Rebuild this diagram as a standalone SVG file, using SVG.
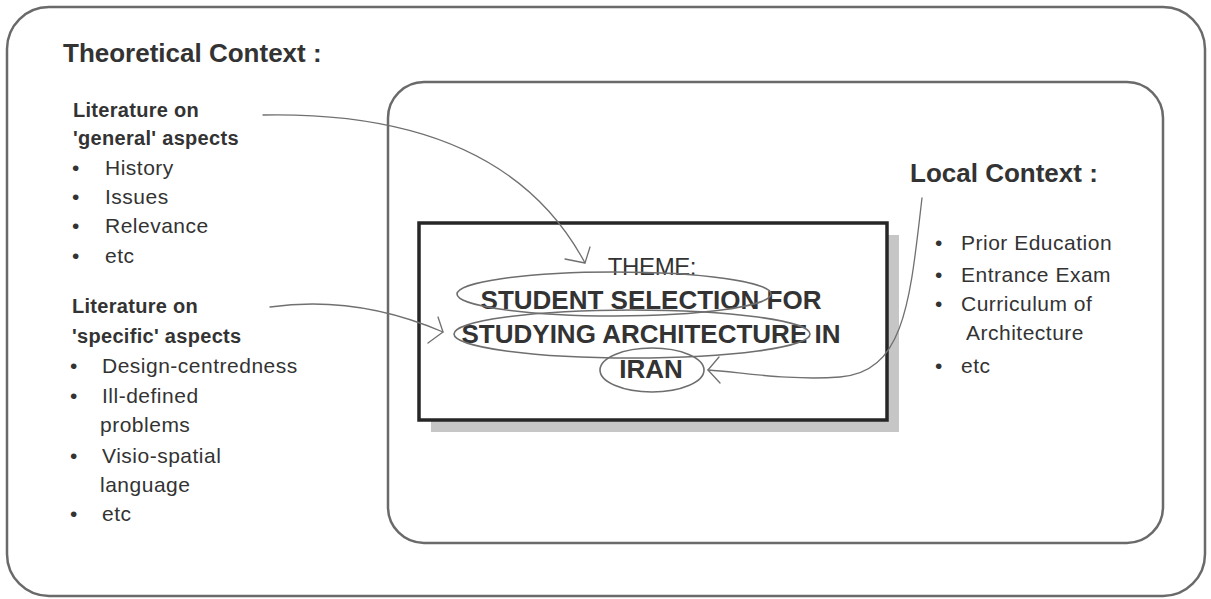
<svg xmlns="http://www.w3.org/2000/svg" width="1211" height="599" viewBox="0 0 1211 599">
  <style>
    .frame { fill: none; stroke: #6a6a6a; stroke-width: 2.5; }
    .txt { font-family: "Liberation Sans", Arial, Helvetica, sans-serif; fill: #333333; }
    .h1 { font-size: 26px; font-weight: bold; }
    .h2 { font-size: 20px; font-weight: bold; letter-spacing: 0.3px; }
    .item { font-size: 21px; letter-spacing: 0.5px; }
    .theme { font-size: 24px; letter-spacing: -0.4px; }
    .themeb { font-size: 26px; font-weight: bold; }
    .link { fill: none; stroke: #707070; stroke-width: 1.3; stroke-linecap: round; stroke-linejoin: round; }
    .ring { fill: none; stroke: #6e6e6e; stroke-width: 1.6; }
  </style>

  <rect x="0" y="0" width="1211" height="599" fill="#ffffff"/>

  <!-- theoretical context frame -->
  <g id="theoretical-context">
    <rect class="frame" x="7" y="7" width="1198" height="589" rx="42" ry="42"/>
    <text class="txt h1" x="63" y="62">Theoretical Context :</text>
  </g>

  <!-- literature on general aspects -->
  <g id="general-literature" class="txt">
    <text class="h2" x="73" y="117">Literature on</text>
    <text class="h2" x="73" y="145">'general' aspects</text>
    <g class="item">
      <text x="72" y="175">•</text><text x="105" y="175">History</text>
      <text x="72" y="204">•</text><text x="105" y="204">Issues</text>
      <text x="72" y="233">•</text><text x="105" y="233">Relevance</text>
      <text x="72" y="263">•</text><text x="105" y="263">etc</text>
    </g>
  </g>

  <!-- literature on specific aspects -->
  <g id="specific-literature" class="txt">
    <text class="h2" x="72" y="313">Literature on</text>
    <text class="h2" x="72" y="343">'specific' aspects</text>
    <g class="item">
      <text x="70" y="373">•</text><text x="102" y="373">Design-centredness</text>
      <text x="70" y="403">•</text><text x="102" y="403">Ill-defined</text>
      <text x="100" y="432">problems</text>
      <text x="70" y="463">•</text><text x="102" y="463">Visio-spatial</text>
      <text x="100" y="492">language</text>
      <text x="70" y="521">•</text><text x="102" y="521">etc</text>
    </g>
  </g>

  <!-- local context frame -->
  <g id="local-context">
    <rect class="frame" x="388" y="82" width="775" height="461" rx="36" ry="36"/>
    <g class="txt">
      <text class="h1" x="910" y="182">Local Context :</text>
      <g class="item">
        <text x="935" y="250">•</text><text x="961" y="250">Prior Education</text>
        <text x="935" y="282">•</text><text x="961" y="282">Entrance Exam</text>
        <text x="935" y="311">•</text><text x="961" y="311">Curriculum of</text>
        <text x="966" y="340">Architecture</text>
        <text x="935" y="373">•</text><text x="961" y="373">etc</text>
      </g>
    </g>
  </g>

  <!-- central theme box with drop shadow -->
  <g id="theme">
    <rect x="431" y="235" width="468" height="197" fill="#c6c6c6"/>
    <rect x="419" y="223" width="468" height="197" fill="#ffffff" stroke="#262626" stroke-width="3.5"/>
    <g class="txt" text-anchor="middle">
      <text class="theme" x="652" y="275">THEME:</text>
      <text class="themeb" x="651" y="309">STUDENT SELECTION FOR</text>
      <text class="themeb" x="651" y="343">STUDYING ARCHITECTURE IN</text>
      <text class="themeb" x="651" y="378">IRAN</text>
    </g>
    <ellipse class="ring" cx="614" cy="294" rx="157" ry="22"/>
    <ellipse class="ring" cx="632" cy="334" rx="178" ry="24"/>
    <ellipse class="ring" cx="652" cy="370" rx="52" ry="22"/>
  </g>

  <!-- hand-drawn arrows into the theme -->
  <g id="connectors">
    <path class="link" d="M263,115 C420,112 530,160 585,263"/>
    <path class="link" d="M590,247 L585,263 L565,259"/>
    <path class="link" d="M270,307 C320,300 380,305 443,332"/>
    <path class="link" d="M438,317 L443,332 L428,343"/>
    <path class="link" d="M922,198 C910,300 905,372 840,377 C790,381 740,372 708,370"/>
    <path class="link" d="M719,357 L708,370 L720,383"/>
  </g>
</svg>
